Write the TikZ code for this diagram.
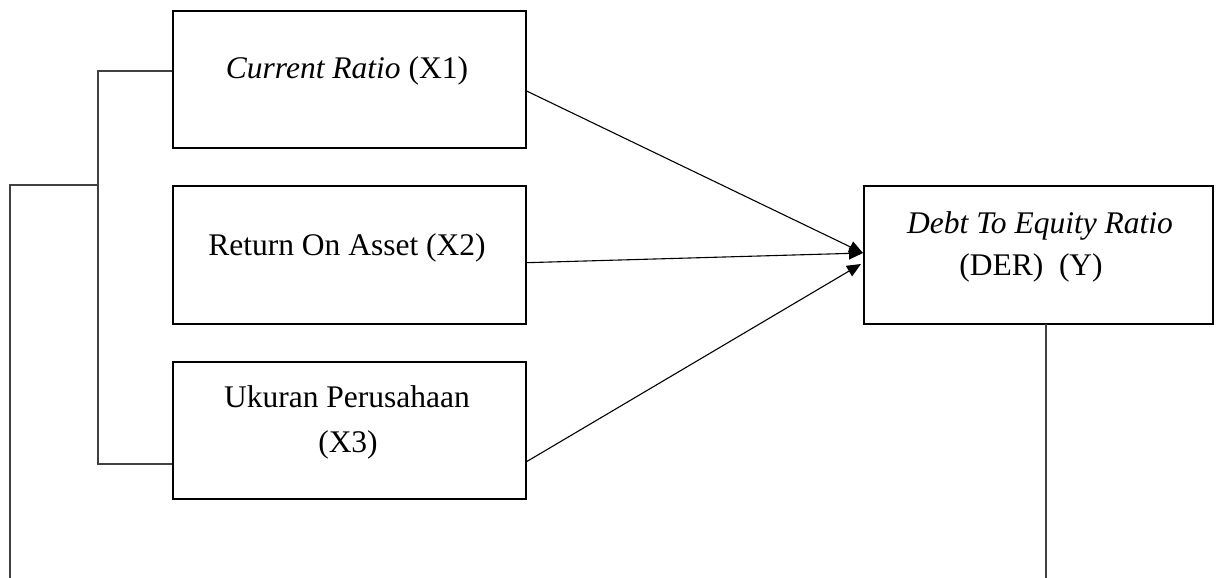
\documentclass[tikz,border=0pt]{standalone}
\usepackage{fontspec}
\setmainfont{Liberation Serif}
\usetikzlibrary{arrows.meta}
\begin{document}
\begin{tikzpicture}[x=1pt,y=-1pt,
  box/.style={draw=black,line width=2pt,inner sep=0pt,minimum width=#1},
  lbl/.style={anchor=base,inner sep=0pt,font=\fontsize{31.5}{36}\selectfont},
  conn/.style={line width=1.1pt,black},
  brk/.style={line width=1.1pt,black!75},
  arr/.style={conn,-{Triangle[length=14pt,width=12pt]}}]
\useasboundingbox (0,0) rectangle (1216,578);
% boxes
\node[box=353pt,minimum height=137pt] (x1) at (349.5,79.5) {};
\node[box=353pt,minimum height=138pt] (x2) at (349.5,255) {};
\node[box=353pt,minimum height=137pt] (x3) at (349.5,430.5) {};
\node[box=349pt,minimum height=138pt] (y) at (1038.5,255) {};
% texts
\node[lbl] (t1) at (347,79) {\textit{Current Ratio} (X1)};
\node[lbl] (t2) at (347,255) {Return On Asset (X2)};
\node[lbl] (t3a) at (347,407) {Ukuran Perusahaan};
\node[lbl] (t3b) at (348,452) {(X3)};
\node[lbl] (ta) at (1040,233) {\textit{Debt To Equity Ratio}};
\node[lbl] (tb) at (1031,275) {(DER)\ \ (Y)};
% coordinates
\coordinate (s1) at (526,90.7);
\coordinate (s2) at (526,262.7);
\coordinate (s3) at (526,462);
\coordinate (e1) at (863,253);
\coordinate (e3) at (861,264);
\coordinate (bt) at (98,71);
\coordinate (bb) at (98,464);
\coordinate (bm) at (98,185);
\coordinate (lm) at (10,185);
\coordinate (lb) at (10,578);
\coordinate (rt) at (1046,324);
\coordinate (rb) at (1046,578);
% arrows
\draw[arr] (s1) -- (e1);
\draw[arr] (s2) -- (e1);
\draw[arr] (s3) -- (e3);
% bracket lines
\draw[brk] (bt -| x1.west) -- (bt) -- (bb) -- (bb -| x3.west);
\draw[brk] (bm) -- (lm) -- (lb);
\draw[brk] (rt) -- (rb);
\end{tikzpicture}
\end{document}
